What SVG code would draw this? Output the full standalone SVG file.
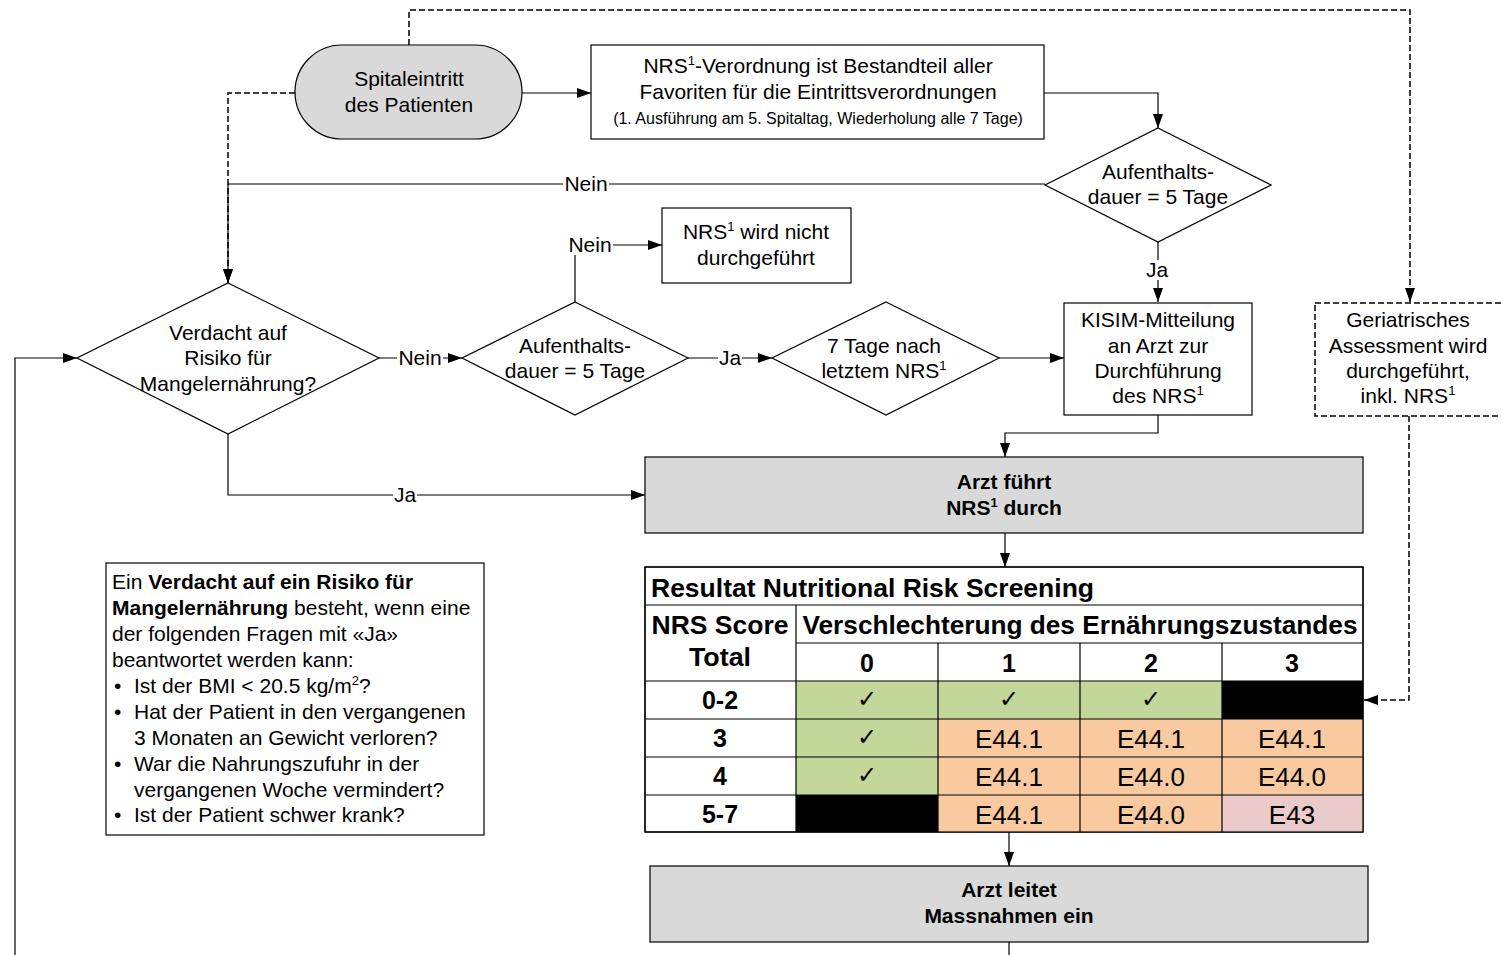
<svg xmlns="http://www.w3.org/2000/svg" width="1501" height="955" viewBox="0 0 1501 955">
<defs>
<style>
text{font-family:"Liberation Sans",Arial,sans-serif;fill:#000}
.t{font-size:21px;text-anchor:middle}
.s{font-size:16px;text-anchor:middle}
.b{font-size:21px;font-weight:bold;text-anchor:middle}
.nt{font-size:21px}
.tb{font-size:25px;font-weight:bold;text-anchor:middle}
.tr{font-size:26px;text-anchor:middle}
.ck{font-family:"DejaVu Sans",sans-serif;font-size:24px;text-anchor:middle}
.box{fill:#fff;stroke:#000;stroke-width:1.2}
.gray{fill:#d9d9d9;stroke:#000;stroke-width:1.2}
.dbox{fill:#fff;stroke:#000;stroke-width:1.5;stroke-dasharray:6 3}
.ln{fill:none;stroke:#000;stroke-width:1.2}
.dl{fill:none;stroke:#000;stroke-width:1.5;stroke-dasharray:6 3}
.lbl{fill:#fff}
.g{fill:#c4d79b}
.o{fill:#f9c9a0}
.p{fill:#eacaca}
.k{fill:#000}
</style>
<marker id="ah" viewBox="0 0 14 10" refX="14" refY="5" markerWidth="14" markerHeight="10" markerUnits="userSpaceOnUse" orient="auto">
<path d="M0,0 L14,5 L0,10 Z" fill="#000"/>
</marker>
</defs>
<rect width="1501" height="955" fill="#fff"/>

<g id="connectors">
<path class="dl" d="M409,45 V10 H1410 V302" marker-end="url(#ah)"/>
<path class="dl" d="M295,93 H228 V283" marker-end="url(#ah)"/>
<path class="dl" d="M1409,416 V700 H1364" marker-end="url(#ah)"/>
<path class="ln" d="M522,93 H591" marker-end="url(#ah)"/>
<path class="ln" d="M1044,93 H1158 V128" marker-end="url(#ah)"/>
<path class="ln" d="M1045,184 H228 V283" marker-end="url(#ah)"/>
<path class="ln" d="M1158,242 V302" marker-end="url(#ah)"/>
<path class="ln" d="M1158,415 V433 H1005 V457" marker-end="url(#ah)"/>
<path class="ln" d="M15,955 V358 H77" marker-end="url(#ah)"/>
<path class="ln" d="M379,358 H462" marker-end="url(#ah)"/>
<path class="ln" d="M575,302 V245 H662" marker-end="url(#ah)"/>
<path class="ln" d="M688,358 H772" marker-end="url(#ah)"/>
<path class="ln" d="M999,358 H1064" marker-end="url(#ah)"/>
<path class="ln" d="M228,434 V495 H645" marker-end="url(#ah)"/>
<path class="ln" d="M1005,533 V567" marker-end="url(#ah)"/>
<path class="ln" d="M1009,832 V866" marker-end="url(#ah)"/>
<path class="ln" d="M1009,942 V955"/>
<rect class="lbl" x="563" y="174" width="46" height="20"/>
<text class="t" x="586" y="191">Nein</text>
<rect class="lbl" x="1145" y="260" width="24" height="20"/>
<text class="t" x="1157" y="277">Ja</text>
<rect class="lbl" x="397" y="348" width="46" height="20"/>
<text class="t" x="420" y="365">Nein</text>
<rect class="lbl" x="567" y="235" width="46" height="20"/>
<text class="t" x="590" y="252">Nein</text>
<rect class="lbl" x="718" y="348" width="24" height="20"/>
<text class="t" x="730" y="365">Ja</text>
<rect class="lbl" x="393" y="485" width="24" height="20"/>
<text class="t" x="405" y="502">Ja</text>
</g>

<g id="n-spitaleintritt">
<rect class="gray" x="295" y="45" width="227" height="94" rx="47" ry="47"/>
<text class="t" x="409" y="86">Spitaleintritt</text>
<text class="t" x="409" y="112">des Patienten</text>
</g>

<g id="n-verordnung">
<rect class="box" x="591" y="45" width="453" height="94"/>
<text class="t" x="818" y="73">NRS<tspan font-size="13" dy="-8">1</tspan><tspan dy="8">-Verordnung ist Bestandteil aller</tspan></text>
<text class="t" x="818" y="99">Favoriten für die Eintrittsverordnungen</text>
<text class="s" x="818" y="124">(1. Ausführung am 5. Spitaltag, Wiederholung alle 7 Tage)</text>
</g>

<g id="n-aufenthalt1">
<polygon class="box" points="1158,128 1271,185 1158,242 1045,185"/>
<text class="t" x="1158" y="179">Aufenthalts-</text>
<text class="t" x="1158" y="204">dauer = 5 Tage</text>
</g>

<g id="n-kisim">
<rect class="box" x="1064" y="303" width="188" height="112"/>
<text class="t" x="1158" y="327">KISIM-Mitteilung</text>
<text class="t" x="1158" y="353">an Arzt zur</text>
<text class="t" x="1158" y="378">Durchführung</text>
<text class="t" x="1158" y="403">des NRS<tspan font-size="13" dy="-8">1</tspan></text>
</g>

<g id="n-geriatrisch">
<rect class="dbox" x="1315" y="303" width="188" height="113"/>
<text class="t" x="1408" y="327">Geriatrisches</text>
<text class="t" x="1408" y="353">Assessment wird</text>
<text class="t" x="1408" y="378">durchgeführt,</text>
<text class="t" x="1408" y="403">inkl. NRS<tspan font-size="13" dy="-8">1</tspan></text>
</g>

<g id="n-verdacht">
<polygon class="box" points="228,283 379,358 228,434 77,358"/>
<text class="t" x="228" y="340">Verdacht auf</text>
<text class="t" x="228" y="365">Risiko für</text>
<text class="t" x="228" y="391">Mangelernährung?</text>
</g>

<g id="n-aufenthalt2">
<polygon class="box" points="575,302 688,358 575,415 462,358"/>
<text class="t" x="575" y="353">Aufenthalts-</text>
<text class="t" x="575" y="378">dauer = 5 Tage</text>
</g>

<g id="n-nichtdurchgefuehrt">
<rect class="box" x="662" y="208" width="189" height="75"/>
<text class="t" x="756" y="239">NRS<tspan font-size="13" dy="-8">1</tspan><tspan dy="8"> wird nicht</tspan></text>
<text class="t" x="756" y="265">durchgeführt</text>
</g>

<g id="n-7tage">
<polygon class="box" points="886,302 999,358 886,415 772,358"/>
<text class="t" x="884" y="353">7 Tage nach</text>
<text class="t" x="884" y="378">letztem NRS<tspan font-size="13" dy="-8">1</tspan></text>
</g>

<g id="n-arztfuehrt">
<rect class="gray" x="645" y="457" width="718" height="76"/>
<text class="b" x="1004" y="489">Arzt führt</text>
<text class="b" x="1004" y="515">NRS<tspan font-size="13" dy="-8">1</tspan><tspan dy="8"> durch</tspan></text>
</g>

<g id="n-tabelle">
<rect class="box" x="645" y="567" width="718" height="265"/>
<rect class="g" x="796" y="681" width="426" height="38"/>
<rect class="k" x="1222" y="681" width="141" height="38"/>
<rect class="g" x="796" y="719" width="142" height="76"/>
<rect class="o" x="938" y="719" width="425" height="76"/>
<rect class="k" x="796" y="795" width="142" height="37"/>
<rect class="o" x="938" y="795" width="284" height="37"/>
<rect class="p" x="1222" y="795" width="141" height="37"/>
<path class="ln" d="M645,605 H1363 M796,643 H1363 M645,681 H1363 M645,719 H1363 M645,757 H1363 M645,795 H1363 M796,605 V832 M938,643 V832 M1080,643 V832 M1222,643 V832"/>
<rect fill="none" stroke="#000" stroke-width="1.2" x="645" y="567" width="718" height="265"/>
<text class="tb" x="651" y="597" style="text-anchor:start" textLength="443" lengthAdjust="spacingAndGlyphs">Resultat Nutritional Risk Screening</text>
<text class="tb" x="720" y="634" textLength="137" lengthAdjust="spacingAndGlyphs">NRS Score</text>
<text class="tb" x="720" y="666" textLength="62" lengthAdjust="spacingAndGlyphs">Total</text>
<text class="tb" x="1080" y="634" textLength="555" lengthAdjust="spacingAndGlyphs">Verschlechterung des Ernährungszustandes</text>
<text class="tb" x="867" y="672">0</text>
<text class="tb" x="1009" y="672">1</text>
<text class="tb" x="1151" y="672">2</text>
<text class="tb" x="1292" y="672">3</text>
<text class="tb" x="720" y="709">0-2</text>
<text class="tb" x="720" y="747">3</text>
<text class="tb" x="720" y="785">4</text>
<text class="tb" x="720" y="823">5-7</text>
<text class="ck" x="867" y="707">✓</text>
<text class="ck" x="1009" y="707">✓</text>
<text class="ck" x="1151" y="707">✓</text>
<text class="ck" x="867" y="745">✓</text>
<text class="ck" x="867" y="783">✓</text>
<text class="tr" x="1009" y="748">E44.1</text>
<text class="tr" x="1151" y="748">E44.1</text>
<text class="tr" x="1292" y="748">E44.1</text>
<text class="tr" x="1009" y="786">E44.1</text>
<text class="tr" x="1151" y="786">E44.0</text>
<text class="tr" x="1292" y="786">E44.0</text>
<text class="tr" x="1009" y="824">E44.1</text>
<text class="tr" x="1151" y="824">E44.0</text>
<text class="tr" x="1292" y="824">E43</text>
</g>

<g id="n-arztleitet">
<rect class="gray" x="650" y="866" width="718" height="76"/>
<text class="b" x="1009" y="897">Arzt leitet</text>
<text class="b" x="1009" y="923">Massnahmen ein</text>
</g>

<g id="n-hinweis">
<rect class="box" x="106" y="563" width="378" height="272"/>
<text class="nt" x="112" y="589">Ein <tspan font-weight="bold">Verdacht auf ein Risiko für</tspan></text>
<text class="nt" x="112" y="615"><tspan font-weight="bold">Mangelernährung</tspan> besteht, wenn eine</text>
<text class="nt" x="112" y="641">der folgenden Fragen mit «Ja»</text>
<text class="nt" x="112" y="667">beantwortet werden kann:</text>
<text class="nt" x="114" y="693">•</text>
<text class="nt" x="134" y="693">Ist der BMI &lt; 20.5 kg/m<tspan font-size="13" dy="-8">2</tspan><tspan dy="8">?</tspan></text>
<text class="nt" x="114" y="719">•</text>
<text class="nt" x="134" y="719">Hat der Patient in den vergangenen</text>
<text class="nt" x="134" y="745">3 Monaten an Gewicht verloren?</text>
<text class="nt" x="114" y="771">•</text>
<text class="nt" x="134" y="771">War die Nahrungszufuhr in der</text>
<text class="nt" x="134" y="797">vergangenen Woche vermindert?</text>
<text class="nt" x="114" y="822">•</text>
<text class="nt" x="134" y="822">Ist der Patient schwer krank?</text>
</g>
</svg>
